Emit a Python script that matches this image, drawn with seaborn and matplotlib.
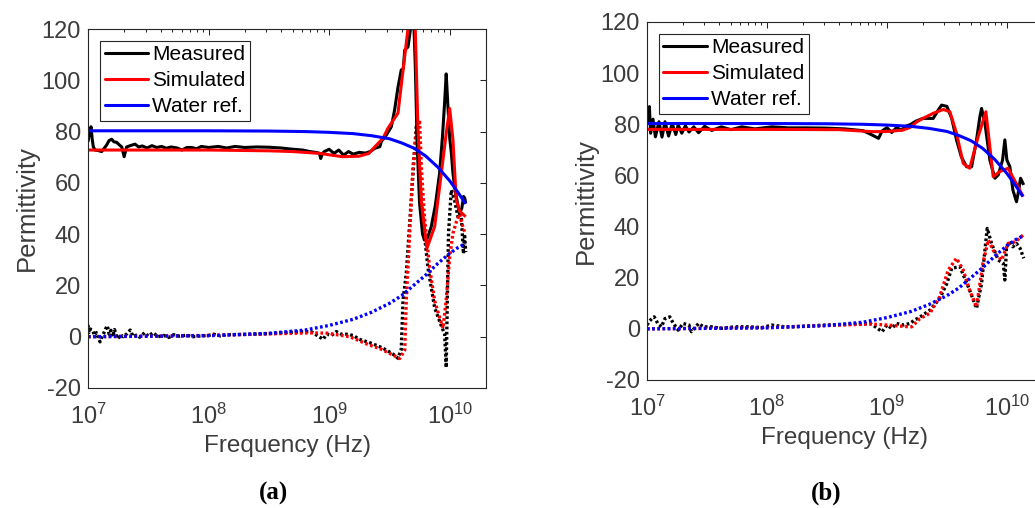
import numpy as np
import matplotlib
matplotlib.use("Agg")
import matplotlib.pyplot as plt
from matplotlib.lines import Line2D
from matplotlib.ticker import LogLocator, FixedLocator, NullFormatter, LogFormatterSciNotation
import seaborn as sns

# ---------------------------------------------------------------- data
# frequencies are given as log10(f / Hz)

# (a) measured / simulated complex permittivity
a_meas_re_logf = [7.000, 7.010, 7.025, 7.035, 7.044, 7.058, 7.085, 7.113, 7.135, 7.155,
                  7.175, 7.196, 7.215, 7.238, 7.260, 7.280, 7.300, 7.320, 7.350, 7.390,
                  7.420, 7.450, 7.490, 7.530, 7.570, 7.610, 7.650, 7.690, 7.740, 7.780,
                  7.820, 7.860, 7.900, 7.940, 8.000, 8.080, 8.150, 8.220, 8.300, 8.400,
                  8.500, 8.600, 8.700, 8.780, 8.840, 8.900, 8.920, 8.930, 8.945, 8.960,
                  9.000, 9.040, 9.080, 9.120, 9.160, 9.200, 9.250, 9.300, 9.340, 9.380,
                  9.420, 9.433, 9.475, 9.516, 9.543, 9.570, 9.598, 9.615, 9.627, 9.654,
                  9.681, 9.700, 9.715, 9.730, 9.750, 9.775, 9.790, 9.815, 9.847, 9.880,
                  9.916, 9.940, 9.958, 9.971, 9.985, 10.000, 10.013, 10.027, 10.045, 10.060,
                  10.080, 10.100, 10.115, 10.125, 10.133]
a_meas_re = [76.0, 79.0, 81.9, 77.0, 74.1, 72.8, 72.6, 72.2, 73.5, 74.8,
             76.5, 77.0, 76.0, 75.8, 74.8, 74.0, 70.2, 74.0, 74.5, 75.1,
             74.0, 74.4, 73.6, 74.5, 73.8, 74.2, 73.5, 74.0, 73.6, 72.8,
             73.8, 73.8, 73.3, 74.2, 73.8, 74.2, 73.6, 74.2, 73.8, 74.0,
             73.9, 73.6, 73.1, 72.8, 72.2, 71.8, 71.5, 69.5, 71.5, 72.2,
             73.1, 71.5, 72.8, 70.8, 72.2, 71.2, 71.9, 71.6, 72.2, 73.5,
             74.1, 76.1, 78.7, 81.9, 88.4, 97.0, 104.0, 104.5, 111.8, 113.0,
             122.0, 126.0, 105.0, 75.0, 52.0, 40.0, 37.7, 38.5, 42.9, 51.0,
             63.7, 78.0, 91.5, 102.5, 90.0, 77.4, 72.0, 63.7, 57.0, 53.3,
             48.0, 50.0, 54.7, 54.0, 52.0]

a_sim_re_logf = [7.0, 8.0, 8.5, 8.7, 8.92, 9.11, 9.25, 9.33, 9.38, 9.447,
                 9.488, 9.571, 9.613, 9.654, 9.685, 9.715, 9.736, 9.764, 9.811, 9.875,
                 9.930, 9.971, 10.000, 10.027, 10.054, 10.082, 10.132]
a_sim_re = [72.8, 72.8, 72.5, 72.2, 71.5, 70.2, 70.4, 71.5, 74.1, 77.4,
            81.3, 87.2, 104.0, 120.0, 135.0, 119.0, 82.0, 53.0, 34.5, 42.9,
            63.7, 79.3, 89.0, 76.7, 53.3, 49.0, 46.8]

a_meas_im_logf = [7.000, 7.008, 7.020, 7.040, 7.055, 7.070, 7.085, 7.100, 7.115, 7.130,
                  7.145, 7.160, 7.175, 7.190, 7.205, 7.220, 7.235, 7.250, 7.270, 7.290,
                  7.320, 7.350, 7.375, 7.400, 7.430, 7.470, 7.500, 7.540, 7.580, 7.630,
                  7.670, 7.710, 7.760, 7.820, 7.870, 7.930, 8.000, 8.040, 8.100, 8.150,
                  8.300, 8.450, 8.600, 8.750, 8.850, 8.900, 8.950, 8.980, 9.020, 9.060,
                  9.100, 9.140, 9.200, 9.250, 9.335, 9.420, 9.475, 9.530, 9.571, 9.598,
                  9.613, 9.640, 9.681, 9.709, 9.723, 9.736, 9.750, 9.764, 9.790, 9.819,
                  9.875, 9.930, 9.958, 9.971, 9.980, 9.990, 10.013, 10.040, 10.068, 10.095,
                  10.114, 10.123, 10.133]
a_meas_im = [4.6, 1.6, 3.0, 2.3, 0.5, 1.6, -0.5, -2.0, 0.0, 1.3,
             3.0, 4.3, 1.0, 2.5, 0.0, 2.8, 0.5, -0.8, 0.8, 0.0,
             1.0, 2.6, 0.0, 0.6, -0.2, 1.6, 0.2, 1.6, 0.0, 0.5,
             -0.3, 0.8, 0.2, 0.6, 0.0, 0.3, 0.5, 1.0, 0.3, 0.8,
             0.9, 1.1, 1.5, 1.9, 2.0, 0.5, -1.0, 1.0, 0.5, 2.0,
             1.0, 1.0, 0.5, -1.0, -2.3, -3.9, -5.2, -6.8, -8.4, -5.0,
             14.3, 24.8, 53.3, 72.8, 81.9, 76.7, 63.7, 53.0, 40.0, 27.0,
             11.3, 4.3, 1.0, -12.0, 14.3, 40.3, 57.2, 53.3, 46.8, 48.0,
             32.4, 40.0, 33.0]

a_sim_im_logf = [7.0, 7.5, 8.0, 8.5, 8.84, 8.98, 9.17, 9.336, 9.42, 9.557,
                 9.585, 9.627, 9.640, 9.668, 9.695, 9.723, 9.750, 9.765, 9.790, 9.833,
                 9.875, 9.916, 9.945, 9.971, 10.000, 10.027, 10.054, 10.082, 10.110, 10.132]
a_sim_im = [0.0, 0.2, 0.5, 1.1, 1.5, 1.4, 0.0, -3.3, -4.6, -7.8,
            -8.5, -5.2, 14.3, 40.3, 66.3, 79.3, 84.5, 66.0, 46.8, 27.0,
            14.0, 7.5, 3.3, 14.3, 31.2, 40.3, 44.6, 47.8, 42.6, 40.0]

# (b) measured / simulated complex permittivity
b_meas_re_logf = [7.000, 7.010, 7.020, 7.030, 7.050, 7.070, 7.100, 7.125, 7.150, 7.180,
                  7.210, 7.240, 7.260, 7.290, 7.320, 7.350, 7.390, 7.430, 7.480, 7.540,
                  7.620, 7.700, 7.790, 7.900, 8.040, 8.180, 8.320, 8.490, 8.650, 8.800,
                  8.860, 8.930, 8.960, 9.000, 9.040, 9.080, 9.120, 9.160, 9.200, 9.240,
                  9.300, 9.386, 9.428, 9.456, 9.500, 9.540, 9.580, 9.620, 9.664, 9.706,
                  9.747, 9.775, 9.789, 9.817, 9.858, 9.900, 9.928, 9.964, 9.983, 10.000,
                  10.025, 10.050, 10.080, 10.094, 10.114, 10.140]
b_meas_re = [80.0, 84.3, 86.9, 76.5, 82.0, 75.1, 81.0, 75.0, 81.0, 75.4,
             80.3, 76.0, 79.8, 76.5, 79.4, 77.0, 79.0, 76.7, 79.2, 77.6,
             79.0, 77.9, 79.0, 78.2, 79.0, 78.6, 78.6, 78.5, 78.2, 77.5,
             76.2, 74.5, 77.4, 78.7, 76.8, 78.7, 77.7, 79.3, 80.0, 81.2,
             82.3, 82.3, 85.6, 87.5, 87.0, 82.3, 73.9, 67.3, 63.4, 63.4,
             73.9, 83.0, 86.2, 80.4, 66.0, 58.9, 60.2, 66.0, 73.9, 66.0,
             63.4, 54.3, 49.7, 53.0, 58.9, 56.3]

b_sim_re_logf = [7.0, 8.0, 8.6, 8.886, 9.0, 9.13, 9.19, 9.25, 9.3, 9.386,
                 9.47, 9.525, 9.58, 9.636, 9.69, 9.76, 9.825, 9.886, 9.94, 10.01,
                 10.136]
b_sim_re = [78.0, 78.0, 77.9, 77.1, 77.2, 77.7, 78.7, 81.0, 82.3, 84.3,
            85.8, 84.9, 76.5, 64.7, 62.8, 75.1, 84.9, 59.5, 61.5, 62.8,
            51.7]

b_meas_im_logf = [7.000, 7.020, 7.040, 7.060, 7.090, 7.120, 7.150, 7.190, 7.220, 7.260,
                  7.300, 7.350, 7.370, 7.430, 7.470, 7.540, 7.620, 7.730, 7.850, 7.960,
                  8.040, 8.150, 8.300, 8.490, 8.700, 8.860, 8.900, 8.960, 9.000, 9.040,
                  9.080, 9.140, 9.190, 9.230, 9.275, 9.360, 9.440, 9.500, 9.540, 9.608,
                  9.678, 9.747, 9.789, 9.817, 9.836, 9.872, 9.928, 9.970, 9.983, 9.997,
                  10.025, 10.050, 10.080, 10.110, 10.140]
b_meas_im = [1.5, 3.0, 4.0, 4.7, 2.1, 0.8, 4.0, 4.7, 2.1, -0.5,
             2.1, 1.5, -1.1, 2.1, 0.8, 0.8, 0.2, 0.8, 0.8, 0.5,
             1.5, 0.8, 1.0, 1.5, 1.8, 2.1, 0.9, -1.1, 1.5, 0.2,
             2.1, 1.5, 2.1, 3.4, 4.6, 7.4, 11.9, 17.8, 23.7, 24.3,
             16.5, 8.0, 17.8, 30.8, 39.3, 33.4, 26.9, 25.6, 19.1, 32.1,
             34.0, 32.1, 33.4, 31.5, 27.6]

b_sim_im_logf = [7.0, 7.5, 8.0, 8.44, 8.86, 9.0, 9.16, 9.206, 9.275, 9.358,
                 9.44, 9.511, 9.58, 9.636, 9.69, 9.747, 9.80, 9.845, 9.90, 9.956,
                 10.01, 10.07, 10.136]
b_sim_im = [0.0, 0.2, 0.5, 1.2, 1.9, 1.5, 0.9, 0.8, 4.0, 6.1,
            12.6, 23.0, 27.6, 23.0, 15.0, 8.6, 25.6, 34.7, 29.5, 26.9,
            33.4, 34.0, 36.7]

# water reference (same in both panels)
water_logf = [7.0, 8.0, 8.5, 8.8, 9.0, 9.2, 9.35, 9.5, 9.6, 9.7,
              9.8, 9.9, 10.0, 10.07, 10.133]
water_re = [80.3, 80.3, 80.2, 80.0, 79.7, 79.2, 78.4, 77.2, 75.6, 73.6,
            70.5, 66.2, 60.8, 56.2, 51.8]
water_im = [0.0, 0.4, 1.3, 2.6, 4.4, 6.8, 9.5, 13.0, 16.0, 20.0,
            24.0, 28.5, 32.5, 34.8, 36.3]

legend_labels = ["Measured", "Simulated", "Water ref."]
y_ticks = [-20, 0, 20, 40, 60, 80, 100, 120]
x_ticks = [1e7, 1e8, 1e9, 1e10]

# ---------------------------------------------------------------- style
sns.set_theme(style="white")
plt.rcParams.update({
    "font.family": ["Liberation Sans", "DejaVu Sans"],
    "mathtext.fontset": "custom",
    "mathtext.rm": "Liberation Sans",
    "mathtext.it": "Liberation Sans:italic",
    "mathtext.bf": "Liberation Sans:bold",
    "axes.unicode_minus": False,
})

C_MEAS, C_SIM, C_WATER = "#000000", "#ff0000", "#0000ff"
TEXT = "#3c3c3c"
AXC = "#262626"
LW = 2.2
LW_DOT = 2.4
DOT = (0, (0.8, 0.75))

fig = plt.figure(figsize=(10.35, 5.08), dpi=100)
ax_a = fig.add_axes([88 / 1035, 1 - 388 / 508, 398 / 1035, 359 / 508])
ax_b = fig.add_axes([647 / 1035, 1 - 380 / 508, 396 / 1035, 358 / 508])


def curve(ax, logf, vals, color, dotted=False):
    f = np.power(10.0, np.asarray(logf, dtype=float))
    sns.lineplot(x=f, y=np.asarray(vals, dtype=float), ax=ax, color=color,
                 linewidth=LW_DOT if dotted else LW, sort=False, estimator=None,
                 legend=False, linestyle=DOT if dotted else "-",
                 dash_capstyle="butt", solid_capstyle="butt")


def panel(ax, meas_re, sim_re, meas_im, sim_im):
    curve(ax, *meas_im, C_MEAS, dotted=True)
    curve(ax, *sim_im, C_SIM, dotted=True)
    curve(ax, water_logf, water_im, C_WATER, dotted=True)
    curve(ax, *meas_re, C_MEAS)
    curve(ax, *sim_re, C_SIM)
    curve(ax, water_logf, water_re, C_WATER)

    ax.set_xscale("log")
    ax.set_xlim(1e7, 2e10)
    ax.set_ylim(-20, 120)
    ax.xaxis.set_major_locator(FixedLocator(x_ticks))
    ax.xaxis.set_major_formatter(LogFormatterSciNotation())
    ax.xaxis.set_minor_locator(LogLocator(base=10, subs=np.arange(2, 10), numticks=20))
    ax.xaxis.set_minor_formatter(NullFormatter())
    ax.yaxis.set_major_locator(FixedLocator(y_ticks))
    ax.set_yticklabels([str(v) for v in y_ticks])

    ax.tick_params(which="both", direction="in", top=True, right=True,
                   color=AXC, width=0.75, labelcolor=TEXT, labelsize=17)
    ax.tick_params(which="major", length=4.3)
    ax.tick_params(which="minor", length=2.2)
    ax.tick_params(axis="x", which="major", pad=11)
    ax.tick_params(axis="y", which="major", pad=5)
    for s in ax.spines.values():
        s.set_color(AXC)
        s.set_linewidth(0.8)
    ax.grid(False)
    ax.set_facecolor("white")

    ax.set_xlabel("Frequency (Hz)", fontsize=17.5, color=TEXT, labelpad=5)
    ax.set_ylabel("Permittivity", fontsize=18.5, color=TEXT, labelpad=2)

    handles = [Line2D([], [], color=c, lw=LW) for c in (C_MEAS, C_SIM, C_WATER)]
    leg = ax.legend(handles, legend_labels, loc="upper left",
                    bbox_to_anchor=(0.03, 0.967), fontsize=15,
                    frameon=True, fancybox=False, framealpha=1,
                    edgecolor=AXC, borderpad=0.22, labelspacing=0.33,
                    handlelength=2.1, handletextpad=0.2, borderaxespad=0)
    leg.get_frame().set_linewidth(0.8)
    for t in leg.get_texts():
        t.set_color("#000000")


panel(ax_a, (a_meas_re_logf, a_meas_re), (a_sim_re_logf, a_sim_re),
      (a_meas_im_logf, a_meas_im), (a_sim_im_logf, a_sim_im))
panel(ax_b, (b_meas_re_logf, b_meas_re), (b_sim_re_logf, b_sim_re),
      (b_meas_im_logf, b_meas_im), (b_sim_im_logf, b_sim_im))

cap = dict(ha="center", va="center", fontsize=18, fontweight="bold",
           family=["Liberation Serif", "DejaVu Serif"], color="#000000")
fig.text(273 / 1035, 1 - 493 / 508, "(a)", **cap)
fig.text(826 / 1035, 1 - 493 / 508, "(b)", **cap)

fig.savefig("out.png", dpi=100, facecolor="white")
